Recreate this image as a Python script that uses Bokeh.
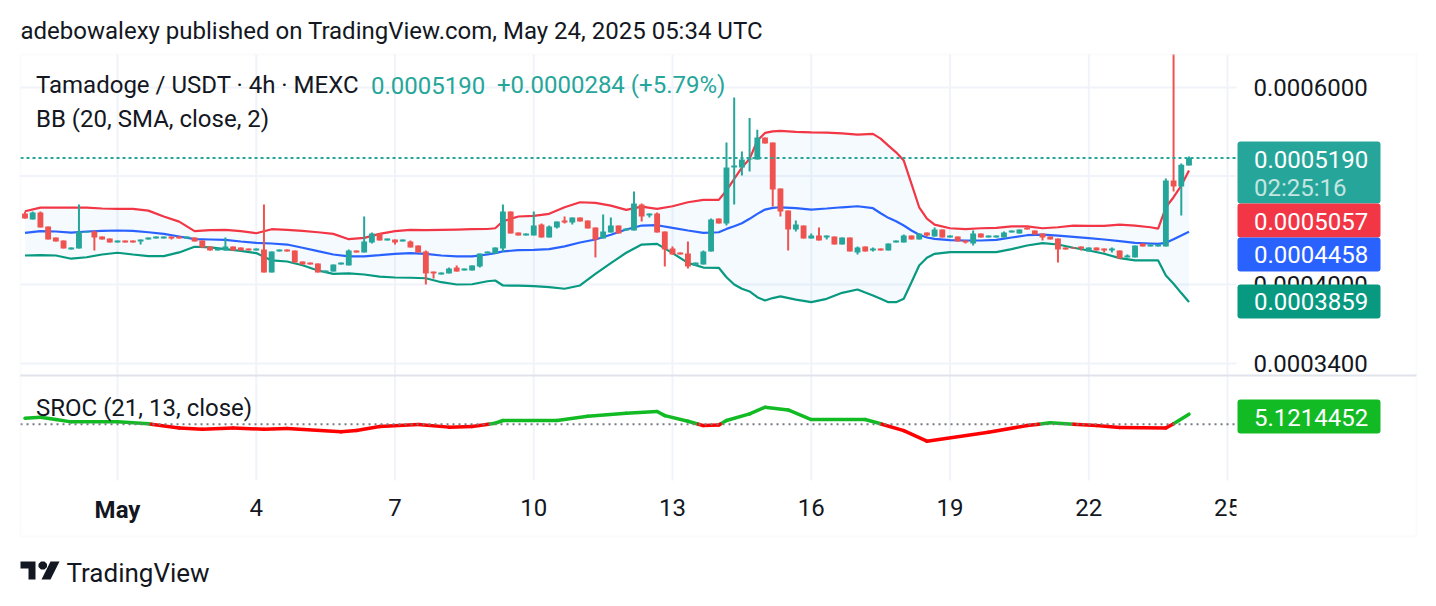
from bokeh.core.properties import value
from bokeh.embed import file_html
from bokeh.resources import INLINE
from bokeh.plotting import figure
from bokeh.models import (BoxAnnotation, ColumnDataSource, FixedTicker, Label, LinearAxis, LinearScale, LogAxis,
                          PolyAnnotation, PrintfTickFormatter, Range1d)

# ---------- data (prices in units of 1e-7 USDT, x in 4h candles from May 1) ----------
start_index = -12
opens = [4629,4572,4639,4507,4406,4379,4299,4308,4451,4461,4415,4397,
 4361,4379,4379,4370,4388,4397,4397,4415,4415,4397,4406,4379,4326,4290,4290,4326,4317,4308,
 4290,4299,4100,4282,4299,4290,4194,4185,4177,4100,4108,4168,4160,4290,4273,4361,4442,4379,
 4388,4370,4370,4334,4282,4108,4083,4092,4142,4117,4117,4151,4264,4264,4308,4648,4451,4424,
 4424,4525,4406,4497,4563,4544,4591,4563,4497,4397,4451,4516,4470,4470,4715,4610,4629,4461,
 4308,4273,4264,4160,4168,4282,4582,4535,5088,5088,5173,5173,5412,5357,4873,4657,4479,4516,
 4397,4424,4406,4415,4343,4406,4273,4326,4290,4308,4290,4361,4361,4424,4388,4451,4415,4479,
 4406,4415,4379,4352,4442,4406,4406,4406,4451,4442,4497,4470,4442,4415,4397,4317,4317,4326,
 4282,4317,4308,4290,4290,4229,4229,4352,4326,4326,4326,4954,4893,5109]
closes = [4582,4639,4497,4388,4370,4308,4317,4461,4461,4406,4388,4361,
 4379,4361,4361,4388,4406,4415,4415,4397,4397,4415,4370,4317,4290,4308,4326,4290,4290,4290,
 4308,4100,4282,4299,4282,4185,4168,4168,4100,4117,4168,4185,4290,4273,4370,4442,4379,4397,
 4361,4388,4317,4273,4092,4092,4100,4134,4108,4134,4160,4264,4282,4317,4648,4442,4424,4442,
 4516,4406,4507,4553,4544,4591,4553,4488,4388,4461,4516,4442,4488,4725,4601,4629,4451,4299,
 4255,4255,4151,4185,4282,4572,4535,5088,5109,5173,5183,5412,5346,4863,4648,4479,4525,4397,
 4424,4379,4424,4343,4406,4282,4317,4282,4308,4290,4352,4379,4424,4388,4442,4424,4479,4406,
 4424,4370,4361,4442,4406,4424,4424,4451,4470,4479,4479,4433,4406,4388,4299,4299,4308,4308,
 4317,4290,4290,4308,4220,4246,4334,4326,4343,4343,4954,4893,5119,5190]
highs = [4648,4648,4648,4507,4406,4379,4317,4715,4461,4470,4415,4397,
 4379,4379,4379,4388,4406,4415,4415,4415,4415,4415,4406,4379,4326,4308,4406,4326,4317,4308,
 4308,4715,4282,4299,4299,4290,4194,4185,4177,4117,4168,4185,4299,4290,4601,4451,4442,4397,
 4388,4388,4379,4334,4290,4108,4100,4142,4160,4134,4160,4264,4282,4317,4715,4648,4451,4442,
 4648,4535,4516,4553,4601,4591,4591,4563,4497,4620,4591,4516,4488,4843,4725,4629,4639,4461,
 4326,4273,4370,4185,4290,4582,4582,5357,5877,5258,5634,5501,5412,5357,4873,4657,4563,4516,
 4442,4497,4424,4415,4406,4406,4326,4326,4317,4308,4352,4379,4433,4424,4442,4451,4497,4479,
 4424,4415,4379,4470,4442,4424,4424,4461,4470,4479,4497,4470,4442,4415,4397,4317,4317,4326,
 4317,4317,4308,4317,4290,4255,4334,4352,4343,4343,4974,6425,5130,5205]
lows = [4582,4572,4497,4388,4370,4308,4299,4308,4451,4290,4388,4361,
 4361,4361,4361,4343,4388,4397,4397,4388,4397,4397,4370,4317,4290,4290,4290,4290,4290,4290,
 4290,4100,4100,4282,4282,4185,4168,4168,4100,4100,4108,4168,4160,4273,4273,4352,4379,4379,
 4343,4370,4317,4273,4000,4050,4083,4092,4108,4117,4117,4142,4264,4264,4282,4442,4424,4424,
 4424,4406,4406,4488,4535,4525,4553,4488,4229,4397,4451,4442,4470,4470,4553,4591,4451,4151,
 4255,4255,4134,4160,4168,4282,4535,4516,4715,5005,5047,5173,5346,4696,4601,4290,4461,4397,
 4397,4379,4388,4343,4343,4282,4255,4282,4282,4290,4290,4361,4361,4388,4388,4415,4415,4406,
 4406,4370,4352,4334,4406,4406,4406,4406,4451,4442,4479,4433,4379,4388,4185,4299,4308,4290,
 4282,4290,4273,4273,4220,4229,4229,4326,4326,4326,4326,4843,4610,5109]

band_x = [-12,-10,-8,-6,-4,-2,0,2,4,6,8,10,12,14,16,18,20,22,24,26,
 28,30,32,34,36,38,40,42,44,46,48,49,50,52,54,56,58,60,62,64,
 66,68,70,72,74,76,78,79,80,81,82,83,84,85,86,88,90,92,94,96,98,99,100,101,102,103,104,105,106,
 108,110,112,114,116,118,120,122,124,126,128,130,132,134,135,136,137,138,139]
bb_upper = [4651,4686,4686,4686,4686,4677,4674,4674,4657,4601,4553,4464,4473,4476,4464,4445,4482,4476,4467,4454,
 4439,4391,4403,4439,4464,4476,4473,4476,4479,4482,4484,4491,4556,4601,4607,4626,4689,4738,4732,4705,
 4664,4696,4674,4699,4738,4761,4761,4853,4971,5088,5180,5379,5464,5482,5487,5476,5471,5468,5460,5445,5453,5401,5324,5250,5162,4920,4689,4580,4525,
 4491,4482,4491,4494,4509,4509,4491,4500,4516,4513,4513,4525,4516,4500,4488,4689,4787,4903,5057]
bb_basis = [4448,4464,4461,4451,4461,4467,4470,4467,4454,4439,4415,4391,4388,4385,4370,4358,4352,4343,4314,4284,
 4255,4238,4238,4249,4261,4267,4261,4246,4238,4238,4255,4267,4282,4293,4296,4302,4326,4361,4388,4431,
 4479,4516,4519,4494,4470,4448,4454,4485,4509,4538,4579,4626,4667,4683,4689,4680,4667,4677,4689,4699,4680,4632,4588,4556,4516,4470,4431,4406,4394,
 4382,4379,4379,4385,4406,4427,4433,4424,4412,4400,4388,4373,4358,4352,4349,4358,4391,4424,4458]
bb_lower = [4246,4249,4246,4218,4231,4255,4270,4255,4241,4241,4273,4323,4317,4302,4287,4267,4203,4194,4162,4117,
 4089,4092,4083,4066,4058,4056,4052,4019,4000,4002,4027,4033,3992,3990,3986,3978,3965,3992,4089,4180,
 4270,4343,4349,4267,4182,4142,4140,4060,4000,3965,3943,3897,3870,3890,3903,3877,3857,3884,3932,3959,3911,3884,3857,3857,3884,4019,4160,4226,4261,
 4276,4276,4276,4276,4302,4334,4355,4343,4314,4290,4261,4223,4203,4203,4203,4075,4006,3930,3859]

sroc_x = [-12,-10,-8,-6,0,4,8,11,15,19,22,29,31,34,39,43,46,49,50,57,61,66,70,71,74,76,78,79,82,84,87,90,97,99,102,105,113,118,121,127,130,136,137,139]
sroc_v = [3.1,3.6,2.4,1.2,1.2,0.2,-1.9,-2.6,-1.9,-2.6,-2.2,-3.9,-3.2,-1.2,-0.1,-1.5,-1.2,0.5,1.9,1.9,4.1,5.6,6.5,4.4,1.5,-0.7,-0.4,1.9,5.3,8.7,7.3,2.4,2.4,0.2,-3.3,-8.7,-4.1,-0.7,0.7,-0.7,-1.7,-1.9,0.2,5.1214452]

price_ticks = [3400, 4000, 5000, 6000]
time_ticks = [0, 18, 36, 54, 72, 90, 108, 126, 144]
time_labels = ["May", "4", "7", "10", "13", "16", "19", "22", "25"]

last_close = "0.0005190"
last_change = "+0.0000284 (+5.79%)"
countdown = "02:25:16"
bb_last = ["0.0005057", "0.0004458", "0.0003859"]
sroc_last = "5.1214452"

# ---------- styles ----------
UP, DOWN = "#26a69a", "#ef5350"
INK = "#131722"
GRID = "#f0f3fa"
FONT = "Roboto"
FS = "24px"
assert len(opens) == len(closes) == len(highs) == len(lows)
assert len(band_x) == len(bb_upper) == len(bb_basis) == len(bb_lower)
assert len(sroc_x) == len(sroc_v)

SCALE = 1e-7
idx = [start_index + i for i in range(len(opens))]
colors = [UP if c >= o else DOWN for o, c in zip(opens, closes)]
candles = ColumnDataSource(dict(
    x=idx,
    top=[max(o, c) * SCALE for o, c in zip(opens, closes)],
    bottom=[min(o, c) * SCALE for o, c in zip(opens, closes)],
    high=[v * SCALE for v in highs],
    low=[v * SCALE for v in lows],
    color=colors,
))
bands = ColumnDataSource(dict(
    x=band_x,
    upper=[v * SCALE for v in bb_upper],
    basis=[v * SCALE for v in bb_basis],
    lower=[v * SCALE for v in bb_lower],
))

# The figure's frame fills the whole canvas, so that annotations may sit anywhere on it.
PANE_LEFT, PANE_RIGHT = -12.58, 145.17
PRICE_TOP, PANE_BOTTOM = 6422 * SCALE, 2672.5 * SCALE

p = figure(width=1430, height=604, x_range=Range1d(-15.178, 170.33),
           y_range=Range1d(2070.5 * SCALE, 7176 * SCALE), y_axis_type="log",
           x_axis_location=None, y_axis_location=None, output_backend="svg", toolbar_location=None,
           min_border_left=0, min_border_right=0, min_border_top=0, min_border_bottom=0,
           outline_line_color=None, background_fill_color="white", border_fill_color="white")
p.extra_y_ranges = {"sroc": Range1d(-92.46, 217.28)}
p.extra_y_scales = {"sroc": LinearScale()}
p.grid.visible = False

price_axis = LogAxis(fixed_location=PANE_RIGHT, ticker=FixedTicker(ticks=[v * SCALE for v in price_ticks]),
                     formatter=PrintfTickFormatter(format="%.7f"), axis_line_color=None, major_tick_line_color=None,
                     minor_tick_line_color=None, major_label_standoff=11, major_label_text_font=FONT,
                     major_label_text_font_size=FS, major_label_text_color=INK)
p.add_layout(price_axis, "right")
time_axis = LinearAxis(fixed_location=PANE_BOTTOM, ticker=FixedTicker(ticks=time_ticks),
                       major_label_overrides={t: ("" if t == 0 else s) for t, s in zip(time_ticks, time_labels)},
                       axis_line_color=None, major_tick_line_color=None, minor_tick_line_color=None,
                       major_label_standoff=13, major_label_text_font=FONT, major_label_text_font_size=FS,
                       major_label_text_color=INK)
p.add_layout(time_axis, "below")

# grid lines
p.segment(x0=time_ticks, x1=time_ticks, y0=PANE_BOTTOM, y1=PRICE_TOP, line_color=GRID, line_width=2)
p.segment(x0=PANE_LEFT, x1=PANE_RIGHT, y0=[v * SCALE for v in price_ticks], y1=[v * SCALE for v in price_ticks],
          line_color=GRID, line_width=2)

# Bollinger bands and candles
p.varea(x="x", y1="lower", y2="upper", source=bands, fill_color="#2196f3", fill_alpha=0.05)
p.line(x="x", y="upper", source=bands, line_color="#f23645", line_width=2.2)
p.line(x="x", y="basis", source=bands, line_color="#2962ff", line_width=2.2)
p.line(x="x", y="lower", source=bands, line_color="#089981", line_width=2.2)
p.segment(x0="x", x1="x", y0="low", y1="high", source=candles, line_color="color", line_width=2)
p.vbar(x="x", width=0.76, top="top", bottom="bottom", source=candles, fill_color="color", line_color=None)
p.segment(x0=[PANE_LEFT], x1=[PANE_RIGHT], y0=[closes[-1] * SCALE], y1=[closes[-1] * SCALE], line_color=UP,
          line_width=2, line_dash=value([3, 3]))

# SROC, split at zero so it changes colour there
up_xs, up_ys, dn_xs, dn_ys = [], [], [], []
for x0, x1, v0, v1 in zip(sroc_x[:-1], sroc_x[1:], sroc_v[:-1], sroc_v[1:]):
    if v0 * v1 < 0:
        xc = x0 + (x1 - x0) * v0 / (v0 - v1)
        (up_xs if v0 > 0 else dn_xs).append([x0, xc])
        (up_ys if v0 > 0 else dn_ys).append([v0, 0])
        (up_xs if v1 > 0 else dn_xs).append([xc, x1])
        (up_ys if v1 > 0 else dn_ys).append([0, v1])
    else:
        (up_xs if v0 + v1 > 0 else dn_xs).append([x0, x1])
        (up_ys if v0 + v1 > 0 else dn_ys).append([v0, v1])
p.multi_line(up_xs, up_ys, line_color="#12bb24", line_width=3.5, line_cap="round", y_range_name="sroc")
p.multi_line(dn_xs, dn_ys, line_color="#ff0000", line_width=3.5, line_cap="round", y_range_name="sroc")
p.segment(x0=[PANE_LEFT], x1=[PANE_RIGHT], y0=[0], y1=[0], line_color="#787b86", line_width=2,
          line_dash=value([2, 4]), y_range_name="sroc")


def txt(x, y, text, color=INK, size=FS, weight="normal", align="left"):
    return Label(x=x, y=y, x_units="canvas", y_units="canvas", text=text, text_color=color,
                 text_font=FONT, text_font_size=size, text_font_style=weight, text_align=align,
                 text_baseline="middle", level="overlay")


def box(left, right, top, bottom, color, radius=3):
    return BoxAnnotation(left=left, right=right, top=top, bottom=bottom, left_units="canvas",
                         right_units="canvas", top_units="canvas", bottom_units="canvas",
                         fill_color=color, fill_alpha=1, line_alpha=0, border_radius=radius, level="overlay")


# clip of the last date label, outer frame and pane separator
p.add_layout(box(1236, 1300, 485, 532, "white", 0))
p.add_layout(BoxAnnotation(left=20, right=1416, top=54, bottom=536, left_units="canvas", right_units="canvas",
                           top_units="canvas", bottom_units="canvas", fill_alpha=0, line_color=GRID, line_width=2,
                           level="overlay"))
p.add_layout(box(20, 1416, 374, 376, "#e0e3eb", 0))

# texts
p.add_layout(txt(20, 30, "adebowalexy published on TradingView.com, May 24, 2025 05:34 UTC"))
p.add_layout(txt(35.5, 84.5, "Tamadoge / USDT · 4h · MEXC"))
p.add_layout(txt(370.5, 84.5, last_close, color=UP))
p.add_layout(txt(496.5, 84.5, last_change, color=UP))
p.add_layout(txt(35.5, 118, "BB (20, SMA, close, 2)"))
p.add_layout(txt(35.5, 407, "SROC (21, 13, close)"))

# price badges
p.add_layout(box(1237, 1380, 141, 203, "#26a69a"))
p.add_layout(box(1237, 1380, 203, 237, "#f23645"))
p.add_layout(box(1237, 1380, 237, 271, "#2962ff"))
p.add_layout(box(1237, 1380, 284, 318, "#089981"))
p.add_layout(box(1237, 1380, 399, 433, "#12bb24"))
p.add_layout(txt(1253.5, 159, last_close, color="white"))
p.add_layout(txt(1253.5, 187, countdown, color="#c4e5e1"))
p.add_layout(txt(1253.5, 221, bb_last[0], color="white"))
p.add_layout(txt(1253.5, 254, bb_last[1], color="white"))
p.add_layout(txt(1253.5, 301, bb_last[2], color="white"))
p.add_layout(txt(1253.5, 417, sroc_last, color="white"))
p.add_layout(Label(x=0, y=509, x_units="data", y_units="canvas", text=time_labels[0], text_color=INK,
                   text_font=FONT, text_font_size=FS, text_font_style="bold", text_align="center",
                   text_baseline="middle", level="overlay"))

# TradingView logo and wordmark
logo_color = "#131722"
for xs, ys in [
    ([20, 35, 35, 28, 28, 20], [561, 561, 579, 579, 568, 568]),
    ([50, 59, 50, 41], [561, 561, 579, 579]),
    ([40.5, 44, 46.5, 46.5, 44, 40.5, 38, 38], [561, 561, 563.5, 566.5, 569, 569, 566.5, 563.5]),
]:
    p.add_layout(PolyAnnotation(xs=xs, ys=ys, xs_units="canvas", ys_units="canvas", fill_color=logo_color,
                                fill_alpha=1, line_alpha=0, level="overlay"))
p.add_layout(txt(66, 572, "TradingView", size="26px"))

open("out.html", "w").write(file_html(p, INLINE))
